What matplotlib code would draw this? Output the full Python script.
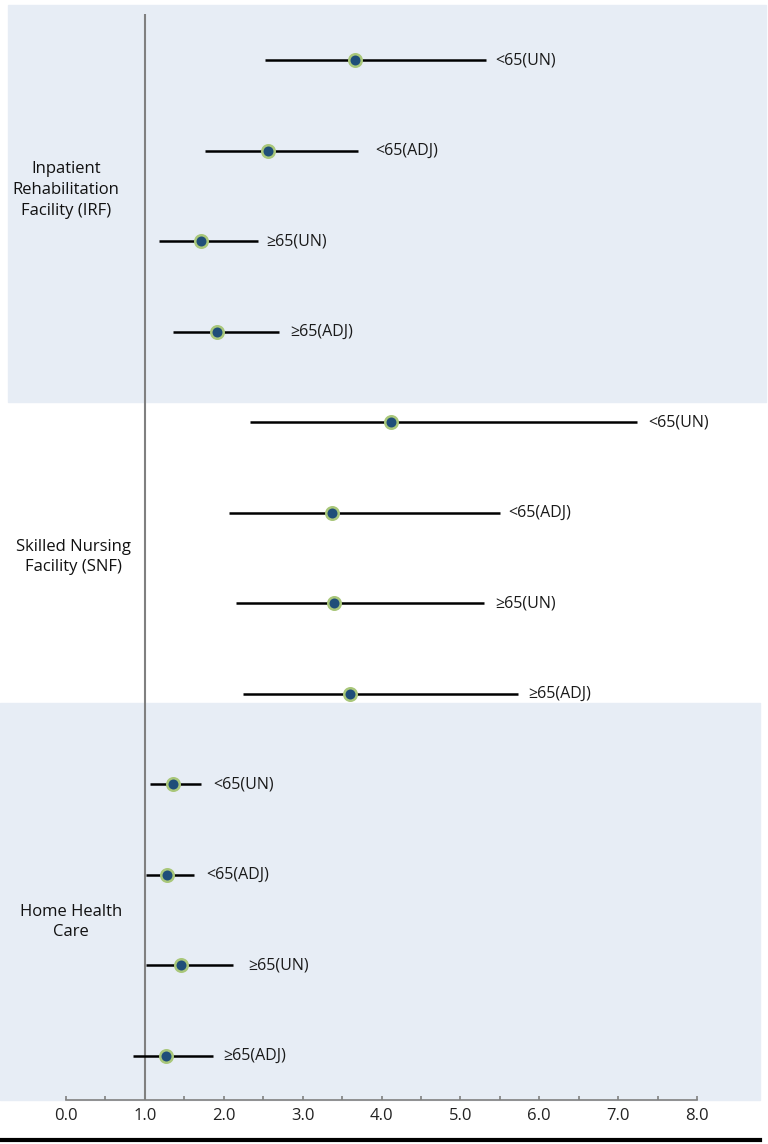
import matplotlib.pyplot as plt
from matplotlib.patches import Rectangle
from matplotlib.lines import Line2D

plt.rcParams['font.family'] = ['Open Sans', 'DejaVu Sans']

# データ
groups = ["Inpatient\nRehabilitation\nFacility (IRF)",
          "Skilled Nursing\nFacility (SNF)",
          "Home Health\nCare"]
row_labels = ["<65(UN)", "<65(ADJ)", "≥65(UN)", "≥65(ADJ)"] * 3
estimate = [3.66, 2.56, 1.71, 1.91,
            4.12, 3.37, 3.40, 3.60,
            1.36, 1.28, 1.46, 1.27]
ci_low = [2.52, 1.76, 1.18, 1.36,
          2.33, 2.07, 2.16, 2.24,
          1.06, 1.01, 1.01, 0.85]
ci_high = [5.33, 3.70, 2.43, 2.70,
           7.24, 5.50, 5.30, 5.73,
           1.71, 1.62, 2.12, 1.86]
xticks = [0, 1, 2, 3, 4, 5, 6, 7, 8]

# ラベルと線の間隔 (px)
label_gap = [9, 17, 9, 11, 11, 8, 11, 10, 12, 12, 15, 11]

W, H = 768, 1144
fig = plt.figure(figsize=(W / 100, H / 100), dpi=100)

# 背景の帯 (図座標) -- 軸より下に描く
band_color = "#E7EDF5"
fig.patches.append(Rectangle((8 / W, 1 - 402 / H), 758 / W, 397 / H,
                             transform=fig.transFigure, color=band_color, zorder=-10))
fig.patches.append(Rectangle((0 / W, 1 - 1100 / H), 760 / W, 397 / H,
                             transform=fig.transFigure, color=band_color, zorder=-10))
fig.lines.append(Line2D([0, 760 / W], [1 - 1140 / H, 1 - 1140 / H],
                        transform=fig.transFigure, color="black", lw=3))

ax = fig.add_axes([66 / W, 1 - 1100 / H, 631 / W, 1095 / H])
ax.patch.set_visible(False)
ax.set_xlim(0, 8)
ax.set_ylim(11.49, -0.61)

rows = list(range(len(estimate)))
ax.vlines(1, -0.51, 11.49, color="#808080", lw=1.5, zorder=1)
ax.hlines(rows, ci_low, ci_high, color="black", lw=1.8, zorder=2)
ax.plot(estimate, rows, "o", ms=9, mfc="#1F4E79", mec="#A9C77A", mew=1.8, zorder=3)
for r, hi, lab, gap in zip(rows, ci_high, row_labels, label_gap):
    ax.annotate(lab, (hi, r), xytext=(gap * 0.72, 0), textcoords="offset points",
                va="center", ha="left", fontsize=11.5, color="#1a1a1a")

# グループ名
group_pos = [(66, 190), (73, 557), (71, 922)]
for g, (px, py) in zip(groups, group_pos):
    fig.text(px / W, 1 - py / H, g, ha="center", va="center",
             fontsize=12, color="#111111", linespacing=1.4)

for s in ["top", "right", "left"]:
    ax.spines[s].set_visible(False)
ax.spines["bottom"].set_color("#808080")
ax.spines["bottom"].set_linewidth(1.2)
ax.set_yticks([])
ax.set_xticks(xticks)
ax.set_xticklabels([f"{v:.1f}" for v in xticks])
ax.set_xticks([v + 0.5 for v in xticks[:-1]], minor=True)
ax.tick_params(axis="x", which="both", direction="in", length=3, width=1.2,
               color="#808080", labelsize=12, labelcolor="#222222", pad=6)

fig.savefig("out.png", dpi=100)
